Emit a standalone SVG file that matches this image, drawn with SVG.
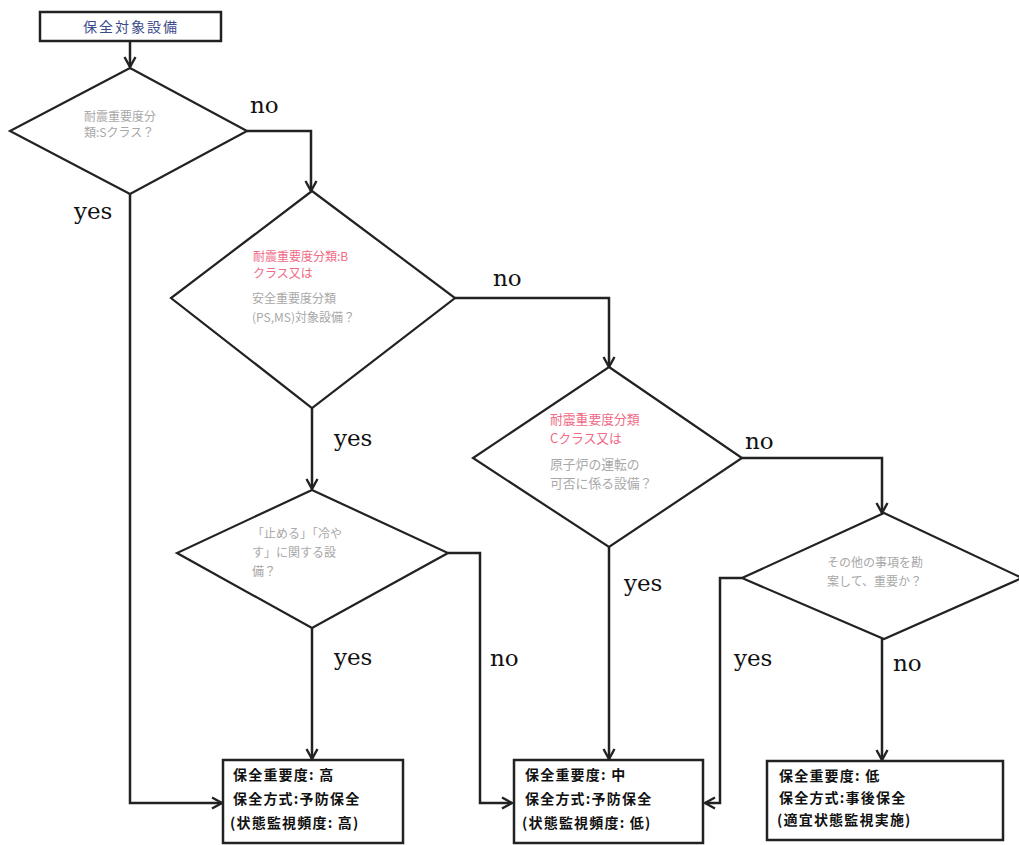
<svg xmlns="http://www.w3.org/2000/svg" width="1019" height="845" viewBox="0 0 1019 845">
<defs>
<marker id="arr" markerUnits="userSpaceOnUse" markerWidth="14" markerHeight="14" viewBox="0 0 14 14" refX="12" refY="7" orient="auto">
<path d="M2,1.5 L12,7 L2,12.5" fill="none" stroke="#222" stroke-width="2.4"/>
</marker>
</defs>
<style>
.shape{fill:#fff;stroke:#222;stroke-width:2.2}
.box{fill:#fff;stroke:#222;stroke-width:2.5}
.edge{fill:none;stroke:#222;stroke-width:2.5;marker-end:url(#arr)}
.lbl{font-family:"DejaVu Serif","Liberation Serif",serif;font-size:23px;fill:#111}
.q{font-family:"Noto Sans CJK JP","Noto Sans",sans-serif;font-size:12px;fill:#a8a8a8}
.qr{font-family:"Noto Sans CJK JP","Noto Sans",sans-serif;font-size:12px;fill:#f06a86}
.big{font-size:12.8px}
.res{font-family:"Noto Sans CJK JP","Noto Sans",sans-serif;font-size:14px;font-weight:bold;fill:#111;letter-spacing:1.2px}
.top{font-family:"Noto Sans CJK JP","Noto Sans",sans-serif;font-size:14px;fill:#3a4a8c;letter-spacing:2px}
</style>
<rect width="1019" height="845" fill="#fff"/>

<g id="connectors">
<path class="edge" d="M130,41 L130,67"/>
<path class="edge" d="M247,131 L311,131 L311,191"/>
<path class="edge" d="M130,194 L130,803 L222,803"/>
<path class="edge" d="M455,298 L609,298 L609,367"/>
<path class="edge" d="M312,408 L312,489"/>
<path class="edge" d="M742,458 L882,458 L882,513"/>
<path class="edge" d="M609,547 L609,759"/>
<path class="edge" d="M448,553 L480,553 L480,803 L512,803"/>
<path class="edge" d="M312,628 L312,759"/>
<path class="edge" d="M742,578 L720,578 L720,803 L705,803"/>
<path class="edge" d="M882,639 L882,760"/>
<text class="lbl" x="250" y="113">no</text>
<text class="lbl" x="74" y="219">yes</text>
<text class="lbl" x="493" y="286">no</text>
<text class="lbl" x="334" y="446">yes</text>
<text class="lbl" x="745" y="449">no</text>
<text class="lbl" x="624" y="591">yes</text>
<text class="lbl" x="334" y="665">yes</text>
<text class="lbl" x="490" y="666">no</text>
<text class="lbl" x="734" y="666">yes</text>
<text class="lbl" x="893" y="671">no</text>
</g>

<g id="start">
<rect class="box" x="40" y="12" width="181" height="29"/>
<text class="top" x="131" y="32" text-anchor="middle">保全対象設備</text>
</g>

<g id="q1">
<polygon class="shape" points="130,68 247,131 130,194 10,131"/>
<text class="q" x="84" y="121">耐震重要度分</text>
<text class="q" x="84" y="137">類:Sクラス？</text>
</g>

<g id="q2">
<polygon class="shape" points="312,191 455,298 312,408 171,298"/>
<text class="qr" x="253" y="261">耐震重要度分類:B</text>
<text class="qr" x="253" y="278">クラス又は</text>
<text class="q" x="252" y="303">安全重要度分類</text>
<text class="q" x="252" y="322">(PS,MS)対象設備？</text>
</g>

<g id="q3">
<polygon class="shape" points="609,367 742,458 609,547 473,458"/>
<text class="qr big" x="550" y="424">耐震重要度分類</text>
<text class="qr big" x="550" y="443">Cクラス又は</text>
<text class="q big" x="550" y="469">原子炉の運転の</text>
<text class="q big" x="550" y="488">可否に係る設備？</text>
</g>

<g id="q4">
<polygon class="shape" points="312,490 448,553 312,628 177,553"/>
<text class="q" x="252" y="538">「止める」「冷や</text>
<text class="q" x="252" y="557">す」に関する設</text>
<text class="q" x="252" y="576">備？</text>
</g>

<g id="q5">
<polygon class="shape" points="884,513 1022,578 884,639 742,578"/>
<text class="q" x="827" y="567">その他の事項を勘</text>
<text class="q" x="827" y="586">案して、重要か？</text>
</g>

<g id="r1">
<rect class="box" x="223" y="760" width="180" height="83"/>
<text class="res" x="233" y="780">保全重要度: 高</text>
<text class="res" x="233" y="804">保全方式:予防保全</text>
<text class="res" x="230" y="828">(状態監視頻度: 高)</text>
</g>

<g id="r2">
<rect class="box" x="514" y="760" width="189" height="83"/>
<text class="res" x="525" y="780">保全重要度: 中</text>
<text class="res" x="525" y="804">保全方式:予防保全</text>
<text class="res" x="522" y="828">(状態監視頻度: 低)</text>
</g>

<g id="r3">
<rect class="box" x="767" y="761" width="236" height="79"/>
<text class="res" x="779" y="781">保全重要度: 低</text>
<text class="res" x="779" y="803">保全方式:事後保全</text>
<text class="res" x="777" y="825">(適宜状態監視実施)</text>
</g>
</svg>
